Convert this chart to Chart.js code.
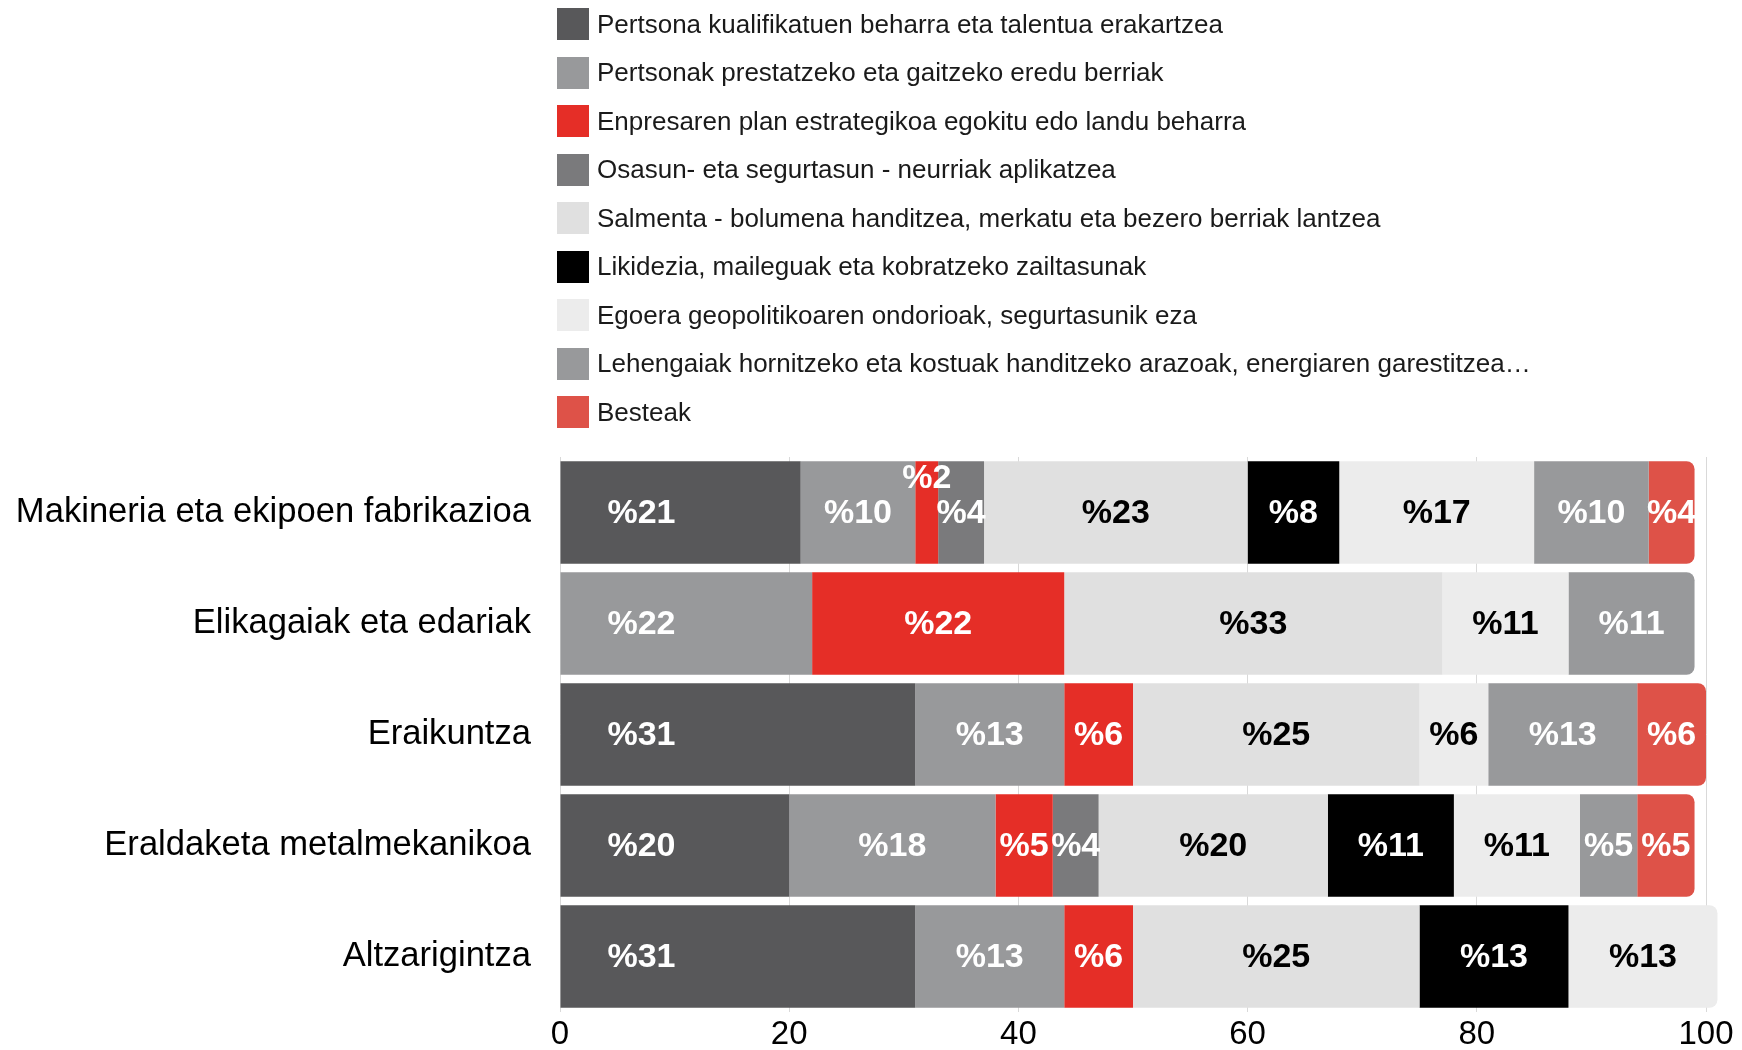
<!DOCTYPE html>
<html>
<head>
<meta charset="utf-8">
<script src="https://cdn.jsdelivr.net/npm/chart.js@4/dist/chart.umd.min.js"></script>
<style>
  html, body { margin: 0; padding: 0; background: #ffffff; }
  #wrap { position: relative; width: 1742px; height: 1050px; }
  #c { position: absolute; left: 0; top: 0; }
  #legend { position: absolute; left: 557px; top: 0; font-family: "Liberation Sans", Arial, sans-serif; font-size: 26px; color: #1a1a1a; }
  .item { position: absolute; left: 0; height: 32px; display: flex; align-items: center; white-space: nowrap; }
  .box { width: 32px; height: 32px; margin-right: 8px; flex: none; }
</style>
</head>
<body>
<div id="wrap">
  <canvas id="c" width="1742" height="1050"></canvas>
  <div id="legend"></div>
</div>
<script>
// ---- DATA ----
const categories = [
  "Makineria eta ekipoen fabrikazioa",
  "Elikagaiak eta edariak",
  "Eraikuntza",
  "Eraldaketa metalmekanikoa",
  "Altzarigintza"
];
const seriesNames = [
  "Pertsona kualifikatuen beharra eta talentua erakartzea",
  "Pertsonak prestatzeko eta gaitzeko eredu berriak",
  "Enpresaren plan estrategikoa egokitu edo landu beharra",
  "Osasun- eta segurtasun - neurriak aplikatzea",
  "Salmenta - bolumena handitzea, merkatu eta bezero berriak lantzea",
  "Likidezia, maileguak eta kobratzeko zailtasunak",
  "Egoera geopolitikoaren ondorioak, segurtasunik eza",
  "Lehengaiak hornitzeko eta kostuak handitzeko arazoak, energiaren garestitzea…",
  "Besteak"
];
const pertsonaKualifikatuak = [21, 0, 31, 20, 31];
const pertsonakPrestatzeko  = [10, 22, 13, 18, 13];
const planEstrategikoa      = [2, 22, 6, 5, 6];
const osasunSegurtasun      = [4, 0, 0, 4, 0];
const salmenta              = [23, 33, 25, 20, 25];
const likidezia             = [8, 0, 0, 11, 13];
const egoeraGeopolitikoa    = [17, 11, 6, 11, 13];
const lehengaiak            = [10, 11, 13, 5, 0];
const besteak               = [4, 0, 6, 5, 0];
const xTickValues = [0, 20, 40, 60, 80, 100];

// ---- STYLES ----
const seriesValues = [pertsonaKualifikatuak, pertsonakPrestatzeko, planEstrategikoa, osasunSegurtasun,
  salmenta, likidezia, egoeraGeopolitikoa, lehengaiak, besteak];
const colors = ["#58585a", "#98999b", "#e52e27", "#7a7a7c", "#e0e0e0", "#000000", "#ececec", "#98999b", "#de5248"];
const labelColors = ["#fff", "#fff", "#fff", "#fff", "#000", "#fff", "#000", "#fff", "#fff"];
const FONT = '"Liberation Sans", Arial, sans-serif';

// legend (HTML)
const legendEl = document.getElementById('legend');
seriesNames.forEach((name, i) => {
  const it = document.createElement('div');
  it.className = 'item';
  it.style.top = (8 + i * 48.5) + 'px';
  const b = document.createElement('span');
  b.className = 'box';
  b.style.background = colors[i];
  const t = document.createElement('span');
  t.textContent = name;
  it.appendChild(b); it.appendChild(t);
  legendEl.appendChild(it);
});

const datasets = seriesNames.map((name, i) => ({
  label: name,
  data: seriesValues[i],
  backgroundColor: colors[i],
  borderWidth: 0,
  borderRadius: 8,
  borderSkipped: 'start',
  barPercentage: 0.925,
  categoryPercentage: 1.0,
  clip: false
}));

const labelPlugin = {
  id: 'segLabels',
  afterDatasetsDraw(chart) {
    const ctx = chart.ctx;
    ctx.save();
    ctx.font = 'bold 34px ' + FONT;
    ctx.textAlign = 'center';
    ctx.textBaseline = 'middle';
    const firstSeen = {};
    chart.data.datasets.forEach((ds, di) => {
      const meta = chart.getDatasetMeta(di);
      meta.data.forEach((el, idx) => {
        const v = ds.data[idx];
        if (!v) return;
        const p = el.getProps(['x', 'y', 'base'], true);
        let cx = (p.x + p.base) / 2;
        let cy = p.y;
        if (!firstSeen[idx]) {
          firstSeen[idx] = true;
          cx = p.base + 81;
        }
        if (v < 3) cy -= 35;
        ctx.fillStyle = labelColors[di];
        ctx.fillText('%' + v, cx, cy + 1);
      });
    });
    ctx.restore();
  }
};

new Chart(document.getElementById('c'), {
  type: 'bar',
  data: { labels: categories, datasets },
  plugins: [labelPlugin],
  options: {
    indexAxis: 'y',
    responsive: false,
    animation: false,
    layout: { padding: { top: 457, right: 36, bottom: 0, left: 0 } },
    plugins: { legend: { display: false }, tooltip: { enabled: false } },
    scales: {
      x: {
        stacked: true,
        min: 0, max: 100,
        afterBuildTicks(scale) { scale.ticks = xTickValues.map(v => ({ value: v })); },
        afterFit(scale) { scale.height = 38; },
        grid: { color: '#d9d9d9', lineWidth: 1, drawTicks: false },
        border: { display: false },
        ticks: { color: '#000', font: { family: FONT, size: 33 }, padding: 3 }
      },
      y: {
        stacked: true,
        afterFit(scale) { scale.width = 560; scale.paddingTop = 0; scale.paddingBottom = 0; },
        grid: { display: false, drawTicks: false },
        border: { display: false },
        ticks: { color: '#000', font: { family: FONT, size: 34.6 }, padding: 29 }
      }
    }
  }
});
</script>
</body>
</html>
